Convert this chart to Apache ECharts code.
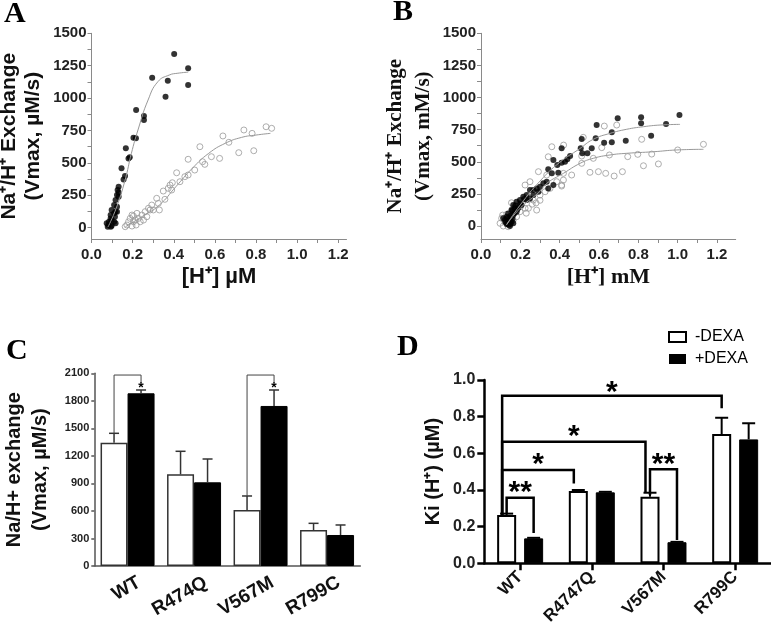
<!DOCTYPE html>
<html><head><meta charset="utf-8">
<script src="https://cdn.jsdelivr.net/npm/echarts@6/dist/echarts.min.js"></script>
<style>html,body{margin:0;padding:0;background:#fff}#c{width:771px;height:631px}</style>
</head><body><div id="c"></div>
<script>
// ---------- Panel A data ----------
const aFilled = [
[0.402,1340],[0.295,1157],[0.371,1134],[0.36,1011],[0.47,1230],[0.47,1101],
[0.217,908],[0.255,862],[0.255,831],[0.204,694],[0.216,690],[0.167,613],
[0.18,535],[0.186,543],[0.146,458],[0.163,399],[0.156,373],[0.132,317],
[0.127,291],[0.124,252],[0.132,272],[0.132,239],[0.117,214],[0.11,175],[0.124,162],
[0.098,137],[0.117,124],[0.124,124],[0.093,98],[0.114,85],[0.098,59],[0.085,46],
[0.11,46],[0.082,21],[0.098,15],[0.079,8],[0.094,8],[0.117,34],[0.093,72],[0.11,111],[0.074,34]
];
const aOpen = [
[0.849,779],[0.876,767],[0.741,754],[0.781,728],[0.639,708],[0.668,659],[0.527,625],[0.789,594],
[0.716,579],[0.583,548],[0.623,535],[0.47,528],[0.54,509],[0.551,489],[0.502,445],[0.414,424],
[0.454,394],[0.47,407],[0.43,355],[0.393,347],[0.382,329],[0.349,283],[0.39,291],[0.317,227],
[0.357,219],[0.325,188],[0.293,175],[0.33,137],[0.301,137],[0.277,150],[0.261,124],[0.245,98],
[0.269,85],[0.221,111],[0.204,90],[0.228,72],[0.188,72],[0.18,46],[0.204,46],[0.172,21],
[0.197,13],[0.217,21],[0.237,46],[0.164,8],[0.253,59],[0.285,137],[0.197,98],[0.213,59],[0.373,304]
];
const fitAFilled = [[0.08,5],[0.12,150],[0.163,366],[0.194,574],[0.226,754],[0.275,985],[0.323,1127],[0.378,1178],[0.42,1192],[0.47,1200]];
const fitAOpen = [[0.165,8],[0.25,90],[0.33,175],[0.41,316],[0.49,458],[0.57,574],[0.65,651],[0.73,697],[0.8,715],[0.87,728]];

// ---------- Panel B data ----------
const bFilled = [
[1.009,864],[0.695,838],[0.814,846],[0.814,799],[0.941,794],[0.588,786],[0.665,729],[0.865,703],
[0.512,677],[0.583,683],[0.736,664],[0.626,648],[0.665,652],[0.563,605],[0.507,605],[0.515,566],[0.541,566],[0.41,605],
[0.453,545],[0.439,519],[0.427,501],[0.41,493],[0.388,475],[0.368,514],[0.342,441],[0.36,410],[0.393,415],
[0.368,319],[0.342,293],[0.334,345],[0.317,332],[0.3,306],[0.283,293],[0.266,280],[0.249,280],[0.266,241],
[0.232,241],[0.215,228],[0.198,202],[0.232,202],[0.181,189],[0.206,163],[0.164,163],[0.172,138],[0.155,124],
[0.181,111],[0.138,98],[0.164,85],[0.13,72],[0.151,60],[0.122,47],[0.138,34],[0.155,34],[0.13,16],[0.147,0],
[0.164,21],[0.113,60],[0.19,145],[0.249,215],[0.292,267],
[0.14,10],[0.15,15],[0.145,45],[0.16,55],[0.17,100],[0.15,80],[0.125,30],[0.135,60],[0.16,120],[0.175,160],[0.2,175],[0.22,210],[0.185,130]
];
const bOpen = [
[0.627,778],[0.69,786],[0.817,675],[0.614,610],[0.52,690],[1.131,636],[1.0,592],[0.868,560],[0.797,558],[0.746,540],
[0.653,553],[0.571,527],[0.512,545],[0.826,469],[0.902,483],[0.554,418],[0.597,423],[0.634,410],[0.677,389],[0.719,423],
[0.461,397],[0.419,358],[0.41,311],[0.42,630],[0.36,617],[0.342,539],[0.292,423],[0.419,410],[0.512,488],[0.385,345],
[0.41,319],[0.351,293],[0.326,267],[0.249,345],[0.224,319],[0.3,241],[0.266,202],[0.241,138],[0.283,124],[0.198,111],
[0.164,47],[0.105,60],[0.097,21],[0.113,0],[0.155,181],[0.224,138],[0.181,72],[0.138,-5],[0.334,397],
[0.12,40],[0.11,85],[0.13,90],[0.16,130],[0.2,150],[0.23,100],[0.26,170],[0.3,200],[0.28,180]
];
const fitBFilled = [[0.13,10],[0.2,165],[0.3,350],[0.4,495],[0.5,600],[0.571,675],[0.656,721],[0.741,753],[0.826,773],[0.91,786],[1.012,791]];
const fitBOpen = [[0.13,10],[0.2,140],[0.3,270],[0.334,332],[0.419,410],[0.504,488],[0.571,527],[0.656,553],[0.741,566],[0.876,578],[0.995,592],[1.131,597]];

// tick values for A/B
const abXLabels = [0,0.2,0.4,0.6,0.8,1.0,1.2];
const abXTicks = [0,0.1,0.2,0.3,0.4,0.5,0.6,0.7,0.8,0.9,1.0,1.1,1.2];
const abYLabels = [0,250,500,750,1000,1250,1500];
const abYTicks = [0,125,250,375,500,625,750,875,1000,1125,1250,1375,1500];

// ---------- Panel C data ----------
const catsC = ['WT','R474Q','V567M','R799C'];
const vmaxMinus = [1344,999,610,392];
const vmaxPlus = [1882,912,1744,338];
const semVmaxMinus = [102,251,153,73];
const semVmaxPlus = [36,254,174,109];
const bracketsC = [
  {from:0, fromSide:'w', fromY:1446, top:2081, to:0, toSide:'b', toY:2000, label:'*', labelY:1975},
  {from:2, fromSide:'w', fromY:763, top:2081, to:2, toSide:'b', toY:2000, label:'*', labelY:1975}
];

// ---------- Panel D data ----------
const catsD = ['WT','R4747Q','V567M','R799C'];
const kiMinus = [0.263,0.394,0.363,0.705];
const kiPlus = [0.136,0.387,0.115,0.676];
const semKiMinus = [0.008,0.006,0.022,0.089];
const semKiPlus = [0.003,0.003,0.002,0.088];
const bracketsD = [
  {from:0, fromSide:'wl', fromY:0.263, top:0.914, to:3, toSide:'w', toY:0.846, label:'*', labelY:0.96},
  {from:0, fromSide:'wl', fromY:0.263, top:0.663, to:2, toSide:'wl', toY:0.384, label:'*', labelY:0.718},
  {from:0, fromSide:'wl', fromY:0.263, top:0.509, to:1, toSide:'wl', toY:0.436, label:'*', labelY:0.564},
  {from:0, fromSide:'w', fromY:0.27, top:0.358, to:0, toSide:'b', toY:0.165, label:'**', labelY:0.41},
  {from:2, fromSide:'w', fromY:0.373, top:0.513, to:2, toSide:'b', toY:0.127, label:'**', labelY:0.564}
];

// ---------- helpers ----------
const SANS = 'Liberation Sans';
const SERIF = 'Liberation Serif';

function errRender(off, capHalf, lw, color) {
  return function (params, api) {
    const i = api.value(0), m = api.value(1), e = api.value(2), s = api.value(3);
    const base = api.coord([i, m]);
    const top = api.coord([i, m + e]);
    const x = base[0] + s * off;
    return {type:'group', children:[
      {type:'line', shape:{x1:x, y1:base[1], x2:x, y2:top[1]}, style:{stroke:color, lineWidth:lw}},
      {type:'line', shape:{x1:x-capHalf, y1:top[1], x2:x+capHalf, y2:top[1]}, style:{stroke:color, lineWidth:lw}}
    ]};
  };
}
function bracketRender(list, offs, lw, color, fontSize, starShift) {
  return function (params, api) {
    const b = list[params.dataIndex];
    const pL = api.coord([b.from, b.fromY]);
    const pR = api.coord([b.to, b.toY]);
    const yTop = api.coord([b.from, b.top])[1];
    const xl = pL[0] + offs[b.fromSide];
    const xr = pR[0] + offs[b.toSide];
    const yLab = api.coord([b.from, b.labelY])[1];
    const xLab = b.from === b.to && b.label === '*' ? xr : (xl + xr) / 2;
    return {type:'group', children:[
      {type:'polyline', shape:{points:[[xl,pL[1]],[xl,yTop],[xr,yTop],[xr,pR[1]]]}, style:{stroke:color, lineWidth:lw, fill:null}},
      {type:'text', style:{text:b.label, x:xLab, y:yLab + starShift, align:'center', verticalAlign:'middle',
        fontSize:fontSize, fontWeight:'bold', fontFamily:SANS, fill:'#000'}}
    ]};
  };
}
const fmt1 = v => Number(v).toFixed(1);
const fmt0 = v => String(v);

function abXAxis(grid, max, name, fam) {
  return {gridIndex:grid, type:'value', min:0, max:max,
    axisLine:{show:true, onZero:false, lineStyle:{color:'#8a8a8a', width:1}},
    axisTick:{show:true, length:4, customValues:abXTicks, lineStyle:{color:'#8a8a8a'}},
    axisLabel:{customValues:abXLabels, formatter:fmt1, fontSize:15, fontWeight:'bold', color:'#222', fontFamily:SANS, margin:8},
    splitLine:{show:false},
    name:name, nameLocation:'middle', nameGap:27, nameMoveOverlap:false,
    nameTextStyle:{fontSize:22, fontWeight:'bold', fontFamily:fam, color:'#111'}};
}
function abYAxis(grid, min, name, fam, gap, lh) {
  return {gridIndex:grid, type:'value', min:min, max:1500,
    axisLine:{show:true, onZero:false, lineStyle:{color:'#8a8a8a', width:1}},
    axisTick:{show:true, length:4, customValues:abYTicks, lineStyle:{color:'#8a8a8a'}},
    axisLabel:{customValues:abYLabels, formatter:fmt0, fontSize:15, fontWeight:'bold', color:'#222', fontFamily:SANS, margin:5},
    splitLine:{show:false},
    name:name, nameLocation:'middle', nameRotate:90, nameGap:gap, nameMoveOverlap:false,
    nameTextStyle:{fontSize:21, fontWeight:'bold', fontFamily:fam, color:'#111', lineHeight:lh}};
}

const errDataC = catsC.map((c,i)=>[i, vmaxMinus[i], semVmaxMinus[i], -1]).concat(catsC.map((c,i)=>[i, vmaxPlus[i], semVmaxPlus[i], 1]));
const errDataD = catsD.map((c,i)=>[i, kiMinus[i], semKiMinus[i], -1]).concat(catsD.map((c,i)=>[i, kiPlus[i], semKiPlus[i], 1]));

const chart = echarts.init(document.getElementById('c'), null, {renderer:'canvas', width:771, height:631});
const titleStyle = {fontFamily:SERIF, fontWeight:'bold', fontSize:30, color:'#000'};
chart.setOption({
  animation:false,
  backgroundColor:'#fff',
  title:[
    {text:'A', left:4, top:-1, padding:0, textStyle:titleStyle},
    {text:'B', left:393, top:-3, padding:0, textStyle:titleStyle},
    {text:'C', left:6, top:336, padding:0, textStyle:titleStyle},
    {text:'D', left:397, top:332, padding:0, textStyle:titleStyle}
  ],
  legend:{left:663, top:324, orient:'vertical', itemWidth:17, itemHeight:10, itemGap:6, selectedMode:false,
    textStyle:{fontSize:16, fontFamily:SANS, color:'#000', padding:[0,0,0,4]},
    data:[{name:'-DEXA', icon:'rect', itemStyle:{color:'#fff', borderColor:'#000', borderWidth:2}},
          {name:'+DEXA', icon:'rect', itemStyle:{color:'#000', borderWidth:0}}]},
  grid:[
    {left:91.5, top:33.3, width:255, height:205.7, outerBoundsMode:'none'},
    {left:481, top:33.3, width:254.7, height:205.7, outerBoundsMode:'none'},
    {left:94.3, top:373.3, width:266, height:192.7, outerBoundsMode:'none'},
    {left:484.3, top:380, width:286.7, height:183.3, outerBoundsMode:'none'}
  ],
  xAxis:[
    abXAxis(0, 1.24, '[H⁺] µM', SANS),
    abXAxis(1, 1.295, '[H⁺] mM', SERIF),
    {gridIndex:2, type:'category', data:catsC,
      axisLine:{show:true, lineStyle:{color:'#555', width:1.5}}, axisTick:{show:false},
      axisLabel:{interval:0, rotate:30, fontSize:19, fontWeight:'bold', color:'#111', fontFamily:SANS, margin:11,
        verticalAlign:'top', padding:[0,-8,0,0]}},
    {gridIndex:3, type:'category', data:catsD,
      axisLine:{show:true, lineStyle:{color:'#000', width:2.5}},
      axisTick:{show:true, alignWithLabel:true, length:7, lineStyle:{color:'#000', width:2.5}},
      axisLabel:{interval:0, rotate:45, fontSize:17, fontWeight:'bold', color:'#111', fontFamily:SANS, margin:11}}
  ],
  yAxis:[
    abYAxis(0, -87, 'Na⁺/H⁺ Exchange\n(Vmax, µM/s)', SANS, 46, 24),
    abYAxis(1, -101, 'Na⁺/H⁺ Exchange\n(Vmax, mM/s)', SERIF, 43, 28),
    {gridIndex:2, type:'value', min:0, max:2100, interval:300,
      axisLine:{show:true, lineStyle:{color:'#555', width:1.5}},
      axisTick:{show:true, length:3, lineStyle:{color:'#555', width:1.5}},
      axisLabel:{formatter:fmt0, fontSize:11, fontWeight:'bold', color:'#222', fontFamily:SANS, margin:5},
      splitLine:{show:false},
      name:'Na/H+ exchange\n(Vmax, µM/s)', nameLocation:'middle', nameRotate:90, nameGap:41, nameMoveOverlap:false,
      nameTextStyle:{fontSize:20, fontWeight:'bold', fontFamily:SANS, color:'#111', lineHeight:26}},
    {gridIndex:3, type:'value', min:0, max:1, interval:0.2,
      axisLine:{show:true, lineStyle:{color:'#000', width:2.5}},
      axisTick:{show:true, length:7, lineStyle:{color:'#000', width:2.5}},
      axisLabel:{formatter:fmt1, fontSize:16, fontWeight:'bold', color:'#222', fontFamily:SANS, margin:9},
      splitLine:{show:false},
      name:'Ki (H⁺) (µM)', nameLocation:'middle', nameRotate:90, nameGap:41, nameMoveOverlap:false,
      nameTextStyle:{fontSize:20, fontWeight:'bold', fontFamily:SANS, color:'#111'}}
  ],
  series:[
    {type:'scatter', xAxisIndex:0, yAxisIndex:0, data:aOpen, symbolSize:6,
      itemStyle:{color:'rgba(255,255,255,0)', borderColor:'#9a9a9a', borderWidth:1}},
    {type:'scatter', xAxisIndex:0, yAxisIndex:0, data:aFilled, symbolSize:6, itemStyle:{color:'#000'}},
    {type:'line', xAxisIndex:0, yAxisIndex:0, data:fitAFilled, smooth:true, symbol:'none', lineStyle:{color:'#999', width:1}},
    {type:'line', xAxisIndex:0, yAxisIndex:0, data:fitAOpen, smooth:true, symbol:'none', lineStyle:{color:'#999', width:1}},
    {type:'scatter', xAxisIndex:1, yAxisIndex:1, data:bOpen, symbolSize:6,
      itemStyle:{color:'rgba(255,255,255,0)', borderColor:'#9a9a9a', borderWidth:1}},
    {type:'scatter', xAxisIndex:1, yAxisIndex:1, data:bFilled, symbolSize:6, itemStyle:{color:'#000'}},
    {type:'line', xAxisIndex:1, yAxisIndex:1, data:fitBFilled, smooth:true, symbol:'none', lineStyle:{color:'#999', width:1}},
    {type:'line', xAxisIndex:1, yAxisIndex:1, data:fitBOpen, smooth:true, symbol:'none', lineStyle:{color:'#999', width:1}},
    {name:'-DEXA', type:'bar', xAxisIndex:2, yAxisIndex:2, data:vmaxMinus, barWidth:27, barGap:'0%',
      itemStyle:{color:'#fff', borderColor:'#333', borderWidth:1.5}},
    {name:'+DEXA', type:'bar', xAxisIndex:2, yAxisIndex:2, data:vmaxPlus, barWidth:27, barGap:'0%',
      itemStyle:{color:'#000', borderColor:'#000', borderWidth:1}},
    {type:'custom', xAxisIndex:2, yAxisIndex:2, data:errDataC, encode:{x:0, y:1}, z:5,
      renderItem:errRender(13.5, 5, 1.5, '#333')},
    {type:'custom', xAxisIndex:2, yAxisIndex:2, data:bracketsC.map((b,i)=>[b.from, b.top]), encode:{x:0, y:1}, z:5,
      renderItem:bracketRender(bracketsC, {w:-13.5, b:13.5}, 1, '#444', 14, 3)},
    {name:'-DEXA', type:'bar', xAxisIndex:3, yAxisIndex:3, data:kiMinus, barWidth:19, barGap:'42%',
      itemStyle:{color:'#fff', borderColor:'#000', borderWidth:2}},
    {name:'+DEXA', type:'bar', xAxisIndex:3, yAxisIndex:3, data:kiPlus, barWidth:19, barGap:'42%',
      itemStyle:{color:'#000', borderColor:'#000', borderWidth:1}},
    {type:'custom', xAxisIndex:3, yAxisIndex:3, data:errDataD, encode:{x:0, y:1}, z:5,
      renderItem:errRender(13.5, 6.5, 2, '#000')},
    {type:'custom', xAxisIndex:3, yAxisIndex:3, data:bracketsD.map((b,i)=>[b.from, b.top]), encode:{x:0, y:1}, z:5,
      renderItem:bracketRender(bracketsD, {w:-13.5, b:13.5, wl:-18}, 2.5, '#000', 30, 5)}
  ]
});
</script></body></html>
